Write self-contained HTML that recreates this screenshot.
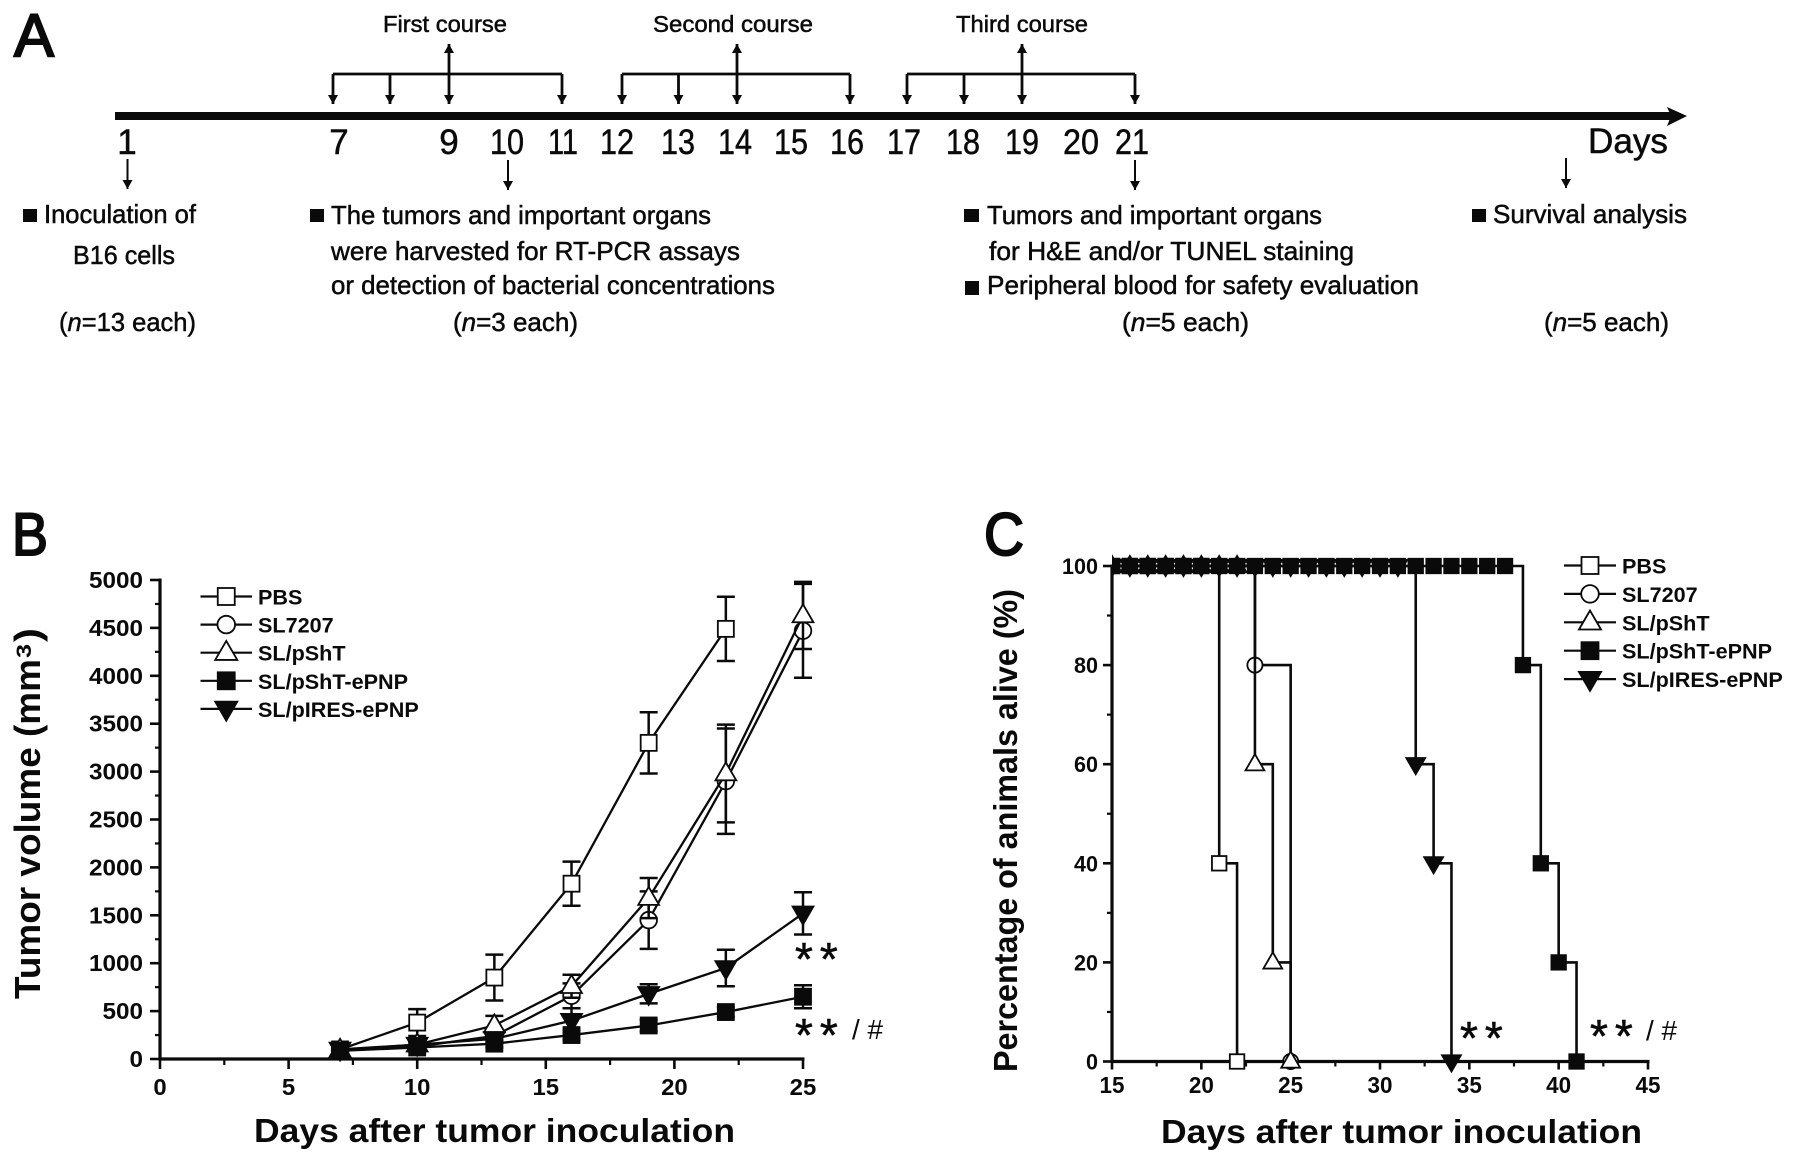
<!DOCTYPE html>
<html lang="en">
<head>
<meta charset="utf-8">
<title>Tumor treatment schedule, tumor volume and survival</title>
<style>
html,body{margin:0;padding:0;background:#fff;}
svg{display:block;}
text{font-family:"Liberation Sans",Arial,sans-serif;fill:#0a0a0a;}
.bold{font-weight:bold;}
.heavy{stroke:#0a0a0a;stroke-width:2;}
.star{stroke:#0a0a0a;stroke-width:.6;letter-spacing:7px;}
#panel-a text{stroke:#0a0a0a;stroke-width:.5;}
#panel-a text.heavy{stroke-width:2;}
</style>
</head>
<body>
<svg id="figure" xmlns="http://www.w3.org/2000/svg" width="1795" height="1162" viewBox="0 0 1795 1162">
<defs>
<marker id="head" markerUnits="userSpaceOnUse" markerWidth="10" markerHeight="12" refX="9" refY="5" orient="auto">
<path d="M0,0 L9,5 L0,10 Z" fill="#0a0a0a"/>
</marker>
<clipPath id="clip-c"><rect x="1112" y="500" width="680" height="660"/></clipPath>
</defs>
<rect x="0" y="0" width="1795" height="1162" fill="#fff"/>

<g id="panel-a" stroke-linecap="butt">
<text x="14" y="56" class="heavy" font-size="60" textLength="40">A</text>
<rect x="115" y="112" width="1556" height="8" fill="#0a0a0a"/>
<path d="M1667,107 L1687,116 L1667,126 L1671,116 Z" fill="#0a0a0a"/>

<g fill="none" stroke="#0a0a0a" stroke-width="2.8">
<path d="M333,74 H562"/>
<path d="M333,74 V104" marker-end="url(#head)"/>
<path d="M390,74 V104" marker-end="url(#head)"/>
<path d="M449,74 V104" marker-end="url(#head)"/>
<path d="M562,74 V104" marker-end="url(#head)"/>
<path d="M449,74 V44" marker-end="url(#head)"/>
</g>
<g fill="none" stroke="#0a0a0a" stroke-width="2.8">
<path d="M622,74 H850"/>
<path d="M622,74 V104" marker-end="url(#head)"/>
<path d="M678.5,74 V104" marker-end="url(#head)"/>
<path d="M737,74 V104" marker-end="url(#head)"/>
<path d="M850,74 V104" marker-end="url(#head)"/>
<path d="M737,74 V44" marker-end="url(#head)"/>
</g>
<g fill="none" stroke="#0a0a0a" stroke-width="2.8">
<path d="M907,74 H1135"/>
<path d="M907,74 V104" marker-end="url(#head)"/>
<path d="M964,74 V104" marker-end="url(#head)"/>
<path d="M1022,74 V104" marker-end="url(#head)"/>
<path d="M1135,74 V104" marker-end="url(#head)"/>
<path d="M1022,74 V44" marker-end="url(#head)"/>
</g>
<text x="383" y="32" font-size="23" textLength="124">First course</text>
<text x="653" y="32" font-size="23" textLength="160">Second course</text>
<text x="956" y="32" font-size="23" textLength="132">Third course</text>

<g font-size="35" text-anchor="middle">
<text x="127" y="154">1</text>
<text x="339" y="154">7</text>
<text x="449" y="154">9</text>
<text x="507" y="154" textLength="34">10</text>
<text x="563" y="154" textLength="30">11</text>
<text x="617" y="154" textLength="34">12</text>
<text x="678" y="154" textLength="34">13</text>
<text x="735" y="154" textLength="34">14</text>
<text x="791" y="154" textLength="34">15</text>
<text x="847" y="154" textLength="34">16</text>
<text x="904" y="154" textLength="34">17</text>
<text x="963" y="154" textLength="34">18</text>
<text x="1022" y="154" textLength="34">19</text>
<text x="1081" y="154" textLength="36">20</text>
<text x="1132" y="154" textLength="34">21</text>
</g>
<text x="1588" y="153" font-size="35" textLength="80">Days</text>

<g fill="none" stroke="#0a0a0a" stroke-width="2">
<path d="M127.5,159 V189" marker-end="url(#head)"/>
<path d="M508,160 V190" marker-end="url(#head)"/>
<path d="M1135,160 V190" marker-end="url(#head)"/>
<path d="M1566,158 V188" marker-end="url(#head)"/>
</g>

<g fill="#0a0a0a">
<rect x="23" y="209" width="14" height="13"/>
<rect x="310" y="209" width="14" height="13"/>
<rect x="964" y="209" width="15" height="13"/>
<rect x="965" y="281" width="14" height="14"/>
<rect x="1472" y="209" width="14" height="13"/>
</g>

<g font-size="26">
<text x="44" y="223" textLength="152">Inoculation of</text>
<text x="73" y="264" textLength="102">B16 cells</text>
<text x="59" y="331" textLength="137">(<tspan font-style="italic">n</tspan>=13 each)</text>
</g>
<g font-size="26">
<text x="331" y="224" textLength="380">The tumors and important organs</text>
<text x="331" y="260" textLength="409">were harvested for RT-PCR assays</text>
<text x="331" y="294" textLength="444">or detection of bacterial concentrations</text>
<text x="453" y="331" textLength="125">(<tspan font-style="italic">n</tspan>=3 each)</text>
</g>
<g font-size="26">
<text x="987" y="224" textLength="335">Tumors and important organs</text>
<text x="989" y="260" textLength="365">for  H&amp;E and/or TUNEL staining</text>
<text x="987" y="294" textLength="432">Peripheral blood for safety evaluation</text>
<text x="1122" y="331" textLength="127">(<tspan font-style="italic">n</tspan>=5 each)</text>
</g>
<g font-size="26">
<text x="1493" y="223" textLength="194">Survival analysis</text>
<text x="1544" y="331" textLength="125">(<tspan font-style="italic">n</tspan>=5 each)</text>
</g>
</g>

<g id="panel-b">
<text x="12" y="555" class="heavy" font-size="60" textLength="36">B</text>
<text transform="translate(40,999) rotate(-90)" class="bold" font-size="36" textLength="340">Tumor volume (mm</text>
<text transform="translate(31,658) rotate(-90)" class="bold" font-size="21" textLength="14">3</text>
<text transform="translate(40,642) rotate(-90)" class="bold" font-size="36" textLength="14">)</text>
<text x="254" y="1142" class="bold" font-size="33" textLength="481">Days after tumor inoculation</text>
<g id="b-axes"></g>
<g id="b-series"></g>
<g id="b-legend"></g>
<text x="795" y="975" class="star" font-size="46">**</text>
<text x="795" y="1051" class="star" font-size="46">**</text>
<text x="852" y="1039" font-size="28" textLength="31">/ #</text>
</g>

<g id="panel-c">
<text x="984" y="555" class="heavy" font-size="60" textLength="40">C</text>
<text transform="translate(1017,1072) rotate(-90)" class="bold" font-size="33" textLength="483">Percentage of animals alive (%)</text>
<text x="1161" y="1143" class="bold" font-size="33" textLength="481">Days after tumor inoculation</text>
<g id="c-axes"></g>
<g id="c-series"></g>
<g id="c-legend"></g>
<text x="1460" y="1054" class="star" font-size="46">**</text>
<text x="1590" y="1052" class="star" font-size="46">**</text>
<text x="1646" y="1040" font-size="28" textLength="31">/ #</text>
</g>
</svg>

<script>
/* Panel B data */
const seriesNames = ['PBS', 'SL7207', 'SL/pShT', 'SL/pShT-ePNP', 'SL/pIRES-ePNP'];
const volumeDays = [7, 10, 13, 16, 19, 22, 25];
const volumePbs = [100, 380, 850, 1830, 3300, 4490];
const errorPbs = [30, 140, 240, 230, 320, 335];
const volumeSl7207 = [90, 130, 240, 660, 1450, 2900, 4470];
const errorSl7207 = [30, 50, 60, 130, 300, 550, 490];
const volumePsht = [95, 150, 350, 760, 1680, 2980, 4630];
const errorPsht = [30, 50, 100, 120, 210, 510, 350];
const volumePshtEpnp = [85, 120, 160, 250, 350, 490, 650];
const errorPshtEpnp = [20, 30, 40, 50, 60, 50, 120];
const volumePiresEpnp = [100, 150, 210, 400, 680, 950, 1520];
const errorPiresEpnp = [30, 40, 50, 130, 100, 190, 220];
const volumeXTicks = ['0', '5', '10', '15', '20', '25'];
const volumeYTicks = ['0', '500', '1000', '1500', '2000', '2500', '3000', '3500', '4000', '4500', '5000'];

/* Panel C data */
const daysPbs = [15, 16, 17, 18, 19, 20, 21, 22];
const alivePbs = [100, 100, 100, 100, 100, 100, 40, 0];
const daysSl7207 = [15, 16, 17, 18, 19, 20, 21, 22, 23, 25];
const aliveSl7207 = [100, 100, 100, 100, 100, 100, 100, 100, 80, 0];
const daysPsht = [15, 16, 17, 18, 19, 20, 21, 22, 23, 24, 25];
const alivePsht = [100, 100, 100, 100, 100, 100, 100, 100, 60, 20, 0];
const daysPshtEpnp = [15, 16, 17, 18, 19, 20, 21, 22, 23, 24, 25, 26, 27, 28, 29, 30, 31, 32, 33, 34, 35, 36, 37, 38, 39, 40, 41];
const alivePshtEpnp = [100, 100, 100, 100, 100, 100, 100, 100, 100, 100, 100, 100, 100, 100, 100, 100, 100, 100, 100, 100, 100, 100, 100, 80, 40, 20, 0];
const daysPiresEpnp = [15, 16, 17, 18, 19, 20, 21, 22, 23, 24, 25, 26, 27, 28, 29, 30, 31, 32, 33, 34];
const alivePiresEpnp = [100, 100, 100, 100, 100, 100, 100, 100, 100, 100, 100, 100, 100, 100, 100, 100, 100, 60, 40, 0];
const survivalXTicks = ['15', '20', '25', '30', '35', '40', '45'];
const survivalYTicks = ['0', '20', '40', '60', '80', '100'];

const NS = 'http://www.w3.org/2000/svg';
const INK = '#0a0a0a';

/* Axis functions */
function xB(v) { return 160 + (v - 0) * (803 - 160) / 25; }
function yB(v) { return 1059 - v * (1059 - 580) / 5000; }
function xC(v) { return 1112 + (v - 15) * (1648 - 1112) / 30; }
function yC(v) { return 1061.5 - v * (1061.5 - 566) / 100; }

function addLine(parent, x1, y1, x2, y2, width, name) {
  const el = document.createElementNS(NS, 'line');
  el.setAttribute('x1', x1);
  el.setAttribute('y1', y1);
  el.setAttribute('x2', x2);
  el.setAttribute('y2', y2);
  el.setAttribute('stroke', INK);
  el.setAttribute('stroke-width', width);
  
  
  parent.appendChild(el);
  return el;
}

function addPath(parent, d, width, name) {
  const el = document.createElementNS(NS, 'path');
  el.setAttribute('d', d);
  el.setAttribute('fill', 'none');
  el.setAttribute('stroke', INK);
  el.setAttribute('stroke-width', width);
  el.setAttribute('stroke-linejoin', 'miter');
  
  
  parent.appendChild(el);
  return el;
}

function addLabel(parent, text, x, y, anchor, size, perChar, name) {
  const el = document.createElementNS(NS, 'text');
  el.textContent = text;
  el.setAttribute('x', x);
  el.setAttribute('y', y);
  el.setAttribute('text-anchor', anchor);
  el.setAttribute('font-size', size);
  el.setAttribute('class', 'bold');
  if (perChar) el.setAttribute('textLength', perChar * text.length);
  
  
  parent.appendChild(el);
  return el;
}

function addMarker(parent, kind, cx, cy, s) {
  const filled = kind === 3 || kind === 4;
  let el;
  if (kind === 0 || kind === 3) {
    el = document.createElementNS(NS, 'rect');
    el.setAttribute('x', cx - s / 2);
    el.setAttribute('y', cy - s / 2);
    el.setAttribute('width', s);
    el.setAttribute('height', s);
  } else if (kind === 1) {
    el = document.createElementNS(NS, 'circle');
    el.setAttribute('cx', cx);
    el.setAttribute('cy', cy);
    el.setAttribute('r', s / 2 + 0.3);
  } else {
    const w = s * 1.3;
    const h = s * 1.12;
    const sign = kind === 2 ? 1 : -1;
    const top = cy - sign * h * 0.62;
    const base = cy + sign * h * 0.38;
    el = document.createElementNS(NS, 'polygon');
    el.setAttribute('points', cx + ',' + top + ' ' + (cx - w / 2) + ',' + base + ' ' + (cx + w / 2) + ',' + base);
  }
  el.setAttribute('fill', filled ? INK : '#fff');
  el.setAttribute('stroke', INK);
  el.setAttribute('stroke-width', 1.8);
  
  
  parent.appendChild(el);
  return el;
}

function addLegend(parent, lineStart, lineEnd, textX, rowY) {
  seriesNames.forEach(function (label, i) {
    const row = document.createElementNS(NS, 'g');
    
    
    parent.appendChild(row);
    const y = rowY(i);
    addLine(row, lineStart, y, lineEnd, y, 2.2, 'legend-line');
    addMarker(row, i, (lineStart + lineEnd) / 2, y, 17);
    addLabel(row, label, textX, y + 8, 'start', 21.6, 0, 'legend-label');
  });
}

/* Panel B axes */
(function () {
  const g = document.getElementById('b-axes');
  addLine(g, xB(0), yB(0) + 1.5, xB(0), yB(5000) - 1.5, 3.2, 'y-axis-line');
  addLine(g, xB(0) - 1.5, yB(0), xB(25) + 1.5, yB(0), 3.2, 'x-axis-line');
  volumeYTicks.forEach(function (label, i) {
    const v = Number(label);
    addLine(g, xB(0) - 10, yB(v), xB(0), yB(v), 2.6, 'y-tick');
    if (i < volumeYTicks.length - 1) {
      addLine(g, xB(0) - 5, yB(v + 250), xB(0), yB(v + 250), 2.2, 'y-minor-tick');
    }
    addLabel(g, label, 143, yB(v) + 8, 'end', 23, 13.5, 'y-tick-label');
  });
  volumeXTicks.forEach(function (label, i) {
    const v = Number(label);
    addLine(g, xB(v), yB(0), xB(v), yB(0) + 10, 2.6, 'x-tick');
    if (i < volumeXTicks.length - 1) {
      addLine(g, xB(v + 2.5), yB(0), xB(v + 2.5), yB(0) + 6, 2.2, 'x-minor-tick');
    }
    addLabel(g, label, xB(v), 1095, 'middle', 23, 13.3, 'x-tick-label');
  });
})();

/* Panel B series */
function drawVolumeSeries(kind, values, errors) {
  const parent = document.getElementById('b-series');
  const g = document.createElementNS(NS, 'g');
  
  
  parent.appendChild(g);
  let d = '';
  values.forEach(function (v, i) {
    d += (i ? 'L' : 'M') + xB(volumeDays[i]) + ',' + yB(v) + ' ';
  });
  addPath(g, d, 2.3, 'series-line');
  values.forEach(function (v, i) {
    const x = xB(volumeDays[i]);
    const hi = yB(v + errors[i]);
    const lo = yB(v - errors[i]);
    addLine(g, x, hi, x, lo, 2.5, 'error-bar');
    addLine(g, x - 9, hi, x + 9, hi, 2.5, 'error-cap');
    addLine(g, x - 9, lo, x + 9, lo, 2.5, 'error-cap');
  });
  values.forEach(function (v, i) {
    addMarker(g, kind, xB(volumeDays[i]), yB(v), 16);
  });
}
drawVolumeSeries(0, volumePbs, errorPbs);
drawVolumeSeries(1, volumeSl7207, errorSl7207);
drawVolumeSeries(2, volumePsht, errorPsht);
drawVolumeSeries(3, volumePshtEpnp, errorPshtEpnp);
drawVolumeSeries(4, volumePiresEpnp, errorPiresEpnp);
addLegend(document.getElementById('b-legend'), 200.5, 252, 258, function (i) { return 596.5 + i * 28.1; });

/* Panel C axes */
(function () {
  const g = document.getElementById('c-axes');
  addLine(g, xC(15), yC(0) + 1.5, xC(15), yC(100) - 1.5, 3.2, 'y-axis-line');
  addLine(g, xC(15) - 1.5, yC(0), xC(45) + 1.5, yC(0), 3.2, 'x-axis-line');
  survivalYTicks.forEach(function (label, i) {
    const v = Number(label);
    addLine(g, xC(15) - 9, yC(v), xC(15), yC(v), 2.6, 'y-tick');
    if (i < survivalYTicks.length - 1) {
      addLine(g, xC(15) - 5, yC(v + 10), xC(15), yC(v + 10), 2.2, 'y-minor-tick');
    }
    addLabel(g, label, 1098, yC(v) + 8, 'end', 22, 12, 'y-tick-label');
  });
  survivalXTicks.forEach(function (label, i) {
    const v = Number(label);
    addLine(g, xC(v), yC(0), xC(v), yC(0) + 8, 2.6, 'x-tick');
    if (i < survivalXTicks.length - 1) {
      addLine(g, xC(v + 2.5), yC(0), xC(v + 2.5), yC(0) + 5, 2.2, 'x-minor-tick');
    }
    addLabel(g, label, xC(v), 1093, 'middle', 23, 12.5, 'x-tick-label');
  });
})();

/* Panel C series */
function drawSurvivalSeries(kind, days, alive) {
  const parent = document.getElementById('c-series');
  const g = document.createElementNS(NS, 'g');
  
  
  g.setAttribute('clip-path', 'url(#clip-c)');
  parent.appendChild(g);
  let d = 'M' + xC(days[0]) + ',' + yC(alive[0]) + ' ';
  for (let i = 1; i < days.length; i++) {
    d += 'H' + xC(days[i]) + ' V' + yC(alive[i]) + ' ';
  }
  addPath(g, d, 2.6, 'step-line');
  days.forEach(function (day, i) {
    addMarker(g, kind, xC(day), yC(alive[i]), 14.5);
  });
}
drawSurvivalSeries(0, daysPbs, alivePbs);
drawSurvivalSeries(1, daysSl7207, aliveSl7207);
drawSurvivalSeries(2, daysPsht, alivePsht);
drawSurvivalSeries(3, daysPshtEpnp, alivePshtEpnp);
drawSurvivalSeries(4, daysPiresEpnp, alivePiresEpnp);
addLegend(document.getElementById('c-legend'), 1564, 1616, 1622, function (i) { return 565.5 + i * 28.4; });

/* Fit all measured text to its width */
document.querySelectorAll('text[textLength]').forEach(function (t) {
  t.setAttribute('lengthAdjust', 'spacingAndGlyphs');
});
</script>
</body>
</html>
